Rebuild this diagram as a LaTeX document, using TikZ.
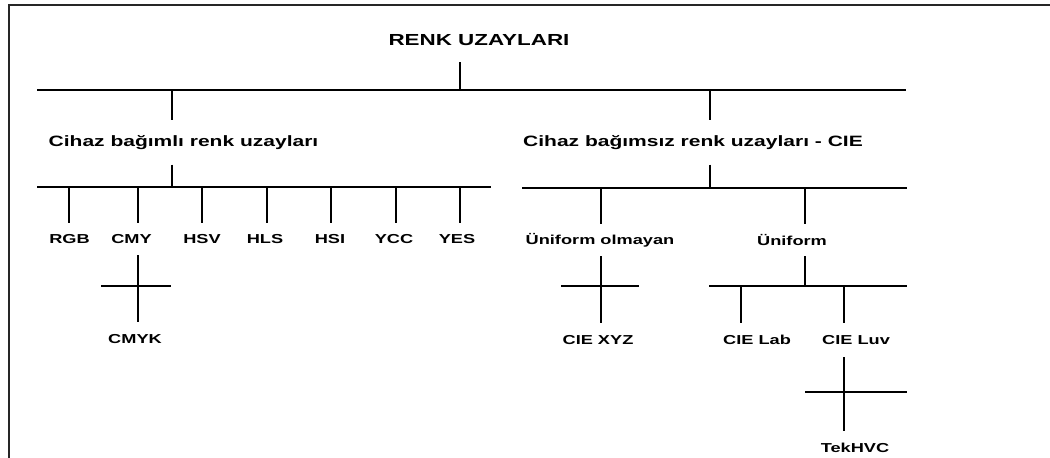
\documentclass[tikz,border=0pt]{standalone}
\usepackage{fontspec}
\setmainfont{Liberation Sans}[FakeStretch=1.4]
\usetikzlibrary{positioning}

\tikzset{
  bar/.style={line width=2.4pt},
  stem/.style={line width=1.3pt},
  title/.style={font=\fontsize{16}{18}\selectfont\bfseries, inner sep=0pt, minimum height=43pt},
  group/.style={font=\fontsize{15}{17}\selectfont\bfseries, inner sep=0pt, minimum height=44pt},
  leaf/.style={font=\fontsize{13}{15}\selectfont\bfseries, inner sep=0pt, minimum height=32pt},
  subleaf/.style={leaf, minimum height=34pt}
}

\begin{document}
\begin{tikzpicture}[x=1pt, y=-1pt]
    \useasboundingbox (0,0) rectangle (1050,458);
    \draw[line width=2pt, black!85] (9,458) -- (9,5) -- (1050,5);

    % top
    \node[title] (renk) at (479,40.5) {RENK UZAYLARI};
    \coordinate (j0) at (460,90);
    \coordinate (j1) at (172,90);
    \coordinate (j2) at (710,90);
    \draw[bar] ([xshift=-423pt]j0) -- ([xshift=446pt]j0);
    \draw[stem] (j0 |- renk.south) -- (j0);

    \node[group] (bagimli) at (183.5,142.5) {Cihaz bağımlı renk uzayları};
    \node[group] (bagimsiz) at (693,142.5) {Cihaz bağımsız renk uzayları - CIE};
    \draw[stem] (j1) -- (j1 |- bagimli.north);
    \draw[stem] (j2) -- (j2 |- bagimsiz.north);

    % cihaz bagimli
    \coordinate (k1) at (172,187);
    \draw[bar] ([xshift=-135pt]k1) -- ([xshift=319pt]k1);
    \draw[stem] (k1 |- bagimli.south) -- (k1);
    \foreach \x/\lx/\name/\txt in {69/69.5/rgb/RGB, 138/131.5/cmy/CMY, 202/202/hsv/HSV,
        267/265/hls/HLS, 331/330/hsi/HSI, 396/394/ycc/YCC, 460/457/yes/YES} {
        \node[leaf] (\name) at (\lx,239) {\txt};
        \coordinate (k\name) at (\x,187);
        \draw[stem] (k\name) -- (k\name |- \name.north);
    }

    \coordinate (kcmyk) at (138,286);
    \draw[bar] ([xshift=-37pt]kcmyk) -- ([xshift=33pt]kcmyk);
    \node[subleaf] (cmyk) at (135,339) {CMYK};
    \draw[stem] (kcmyk |- cmy.south) -- (kcmyk |- cmyk.north);

    % cihaz bagimsiz
    \coordinate (k2) at (710,188);
    \coordinate (j3) at (601,188);
    \coordinate (j4) at (805,188);
    \draw[bar] ([xshift=-188pt]k2) -- ([xshift=197pt]k2);
    \draw[stem] (k2 |- bagimsiz.south) -- (k2);
    \node[leaf] (olmayan) at (600,240) {Üniform olmayan};
    \node[leaf] (uniform) at (792,240) {Üniform};
    \draw[stem] (j3) -- (j3 |- olmayan.north);
    \draw[stem] (j4) -- (j4 |- uniform.north);

    \coordinate (kxyz) at (601,286);
    \draw[bar] ([xshift=-40pt]kxyz) -- ([xshift=38pt]kxyz);
    \node[subleaf] (xyz) at (598,340) {CIE XYZ};
    \draw[stem] (kxyz |- olmayan.south) -- (kxyz |- xyz.north);

    \coordinate (k5) at (805,286);
    \coordinate (klab) at (741,286);
    \coordinate (kluv) at (844,286);
    \draw[bar] ([xshift=-96pt]k5) -- ([xshift=102pt]k5);
    \draw[stem] (k5 |- uniform.south) -- (k5);
    \node[subleaf] (lab) at (757,340) {CIE Lab};
    \node[subleaf] (luv) at (856,340) {CIE Luv};
    \draw[stem] (klab) -- (klab |- lab.north);
    \draw[stem] (kluv) -- (kluv |- luv.north);

    \coordinate (khvc) at (844,392);
    \draw[bar] ([xshift=-39pt]khvc) -- ([xshift=63pt]khvc);
    \node[subleaf] (tek) at (855,448) {TekHVC};
    \draw[stem] (khvc |- luv.south) -- (khvc |- tek.north);
\end{tikzpicture}
\end{document}
